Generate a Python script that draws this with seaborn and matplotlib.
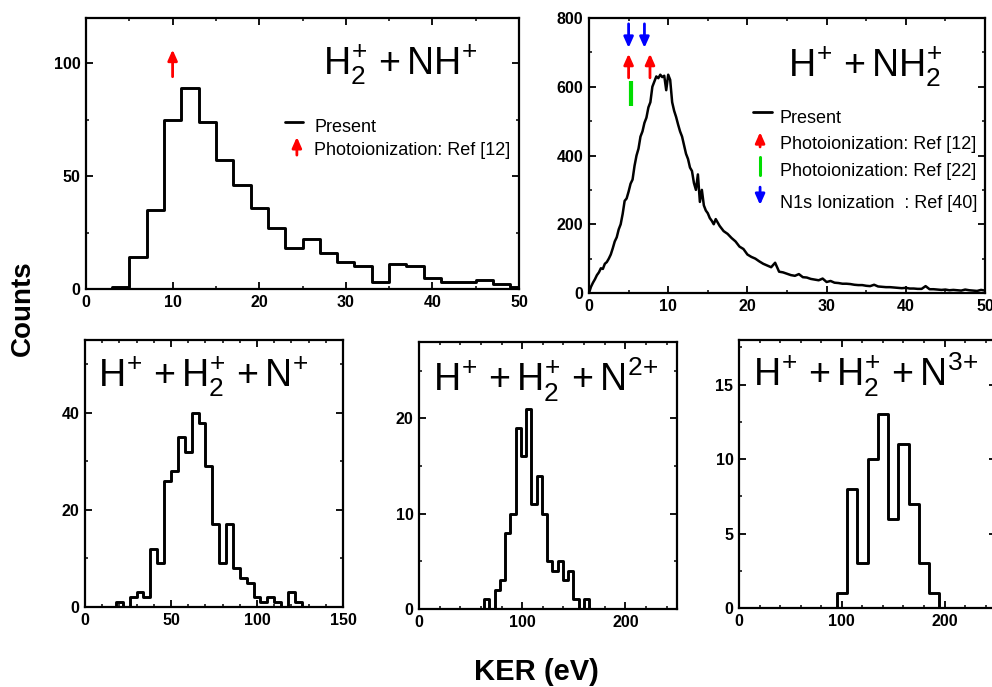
import numpy as np
import pandas as pd
import matplotlib
matplotlib.use("Agg")
import matplotlib.pyplot as plt
import seaborn as sns
from matplotlib.ticker import MultipleLocator

# ---------------- data ----------------
# H2+ + NH+  (2 eV bins)
h2nh_edges = np.arange(-1, 54, 2)
h2nh_counts = [0, 0, 1, 14, 35, 75, 89, 74, 57, 46, 36, 27, 18, 22, 16, 12,
               10, 3, 11, 10, 5, 3, 3, 4, 2, 1, 0]
h2nh_arrow_x = [10]
h2nh_arrow_y = (94, 106)

# H+ + NH2+  (fine spectrum)
hnh2_x_fine = np.arange(0, 16.01, 0.25)
hnh2_y_fine = [0, 18, 30, 40, 52, 60, 72, 70, 85, 90,
               100, 112, 130, 150, 162, 185, 200, 230, 268, 275,
               295, 318, 330, 370, 400, 420, 455, 470, 495, 510,
               540, 555, 600, 615, 630, 625, 635, 628, 632, 590,
               635, 620, 555, 530, 512, 490, 470, 455, 430, 405,
               390, 365, 355, 320, 300, 345, 265, 300, 255, 240,
               232, 218, 210, 200, 215]
hnh2_x_coarse = np.arange(16.5, 50.01, 0.5)
hnh2_y_coarse = [195, 180, 172, 160, 150, 135, 128, 112, 105, 100,
                 92, 85, 80, 75, 88, 62, 60, 56, 52, 50,
                 55, 46, 45, 41, 39, 37, 42, 32, 35, 30,
                 29, 27, 27, 26, 24, 23, 23, 21, 20, 24,
                 19, 18, 17, 17, 16, 15, 14, 15, 13, 13,
                 12, 12, 20, 11, 11, 10, 9, 10, 8, 9,
                 8, 7, 10, 8, 7, 6, 9, 7]
hnh2_red_x = [5.0, 7.7]
hnh2_red_y = (626, 696)
hnh2_blue_x = [5.0, 7.0]
hnh2_blue_y = (783, 713)
hnh2_green_x = [5.35]
hnh2_green_y = (544, 616)

# H+ + H2+ + N+  (4 eV bins)
n1_edges = np.arange(14, 131, 4)
n1_counts = [0, 1, 0, 2, 3, 2, 12, 9, 26, 28, 35, 32, 40, 38, 29, 17, 9, 17,
             8, 6, 5, 2, 1, 2, 1, 0, 3, 1, 0]

# H+ + H2+ + N2+  (~5 eV bins)
n2_edges = np.linspace(57.9, 170.1, 23)
n2_counts = [0, 1, 0, 2, 3, 8, 10, 19, 16, 21, 11, 14, 10, 5, 4, 5, 3, 4,
             1, 0, 1, 0]

# H+ + H2+ + N3+  (10 eV bins)
n3_edges = np.arange(85, 206, 10)
n3_counts = [0, 1, 8, 3, 10, 13, 6, 11, 7, 3, 1, 0]

titles = [r"$H_2^{\!+} + NH^{\!+}$", r"$H^{\!+} + NH_2^{\!+}$",
          r"$H^{\!+} + H_2^{\!+} + N^{\!+}$",
          r"$H^{\!+} + H_2^{\!+} + N^{2\!+}$",
          r"$H^{\!+} + H_2^{\!+} + N^{3\!+}$"]
legend_present = "Present"
legend_ref12 = "Photoionization: Ref [12]"
legend_ref22 = "Photoionization: Ref [22]"
legend_ref40 = "N1s Ionization  : Ref [40]"

# ---------------- style ----------------
sns.set_theme(style="ticks")
plt.rcParams["font.family"] = ["Liberation Sans", "DejaVu Sans"]
plt.rcParams["mathtext.fontset"] = "custom"
plt.rcParams["mathtext.rm"] = "Liberation Sans"
plt.rcParams["mathtext.it"] = "Liberation Sans:italic"
plt.rcParams["mathtext.bf"] = "Liberation Sans:bold"
plt.rcParams["mathtext.default"] = "regular"
plt.rcParams["axes.linewidth"] = 1.6
plt.rcParams["axes.edgecolor"] = "black"
plt.rcParams["text.color"] = "black"
plt.rcParams["axes.labelcolor"] = "black"

fig = plt.figure(figsize=(9.92, 6.87), dpi=100)
W, H = 992.0, 687.0


def add_ax(l, r, t, b):
    return fig.add_axes([l / W, 1 - b / H, (r - l) / W, (b - t) / H])


ax_tl = add_ax(86, 519, 18, 289)
ax_tr = add_ax(589, 985, 18, 293)
ax_b1 = add_ax(85, 343, 340, 607)
ax_b2 = add_ax(419, 677, 342, 609)
ax_b3 = add_ax(739, 996, 340, 608)


def style_axis(ax, xlim, ylim, xmaj, xmin, ymaj, ymin):
    ax.set_xlim(*xlim)
    ax.set_ylim(*ylim)
    ax.xaxis.set_major_locator(MultipleLocator(xmaj))
    ax.xaxis.set_minor_locator(MultipleLocator(xmin))
    ax.yaxis.set_major_locator(MultipleLocator(ymaj))
    ax.yaxis.set_minor_locator(MultipleLocator(ymin))
    ax.tick_params(which="both", direction="in", top=True, right=True,
                   colors="black", labelsize=11.5, pad=4)
    ax.tick_params(which="major", length=5, width=1.3)
    ax.tick_params(which="minor", length=2.5, width=1.1)
    ax.set_xlabel("")
    ax.set_ylabel("")
    for lab in ax.get_xticklabels() + ax.get_yticklabels():
        lab.set_fontweight("bold")
    for sp in ax.spines.values():
        sp.set_visible(True)
        sp.set_linewidth(1.6)


def hist(ax, edges, counts):
    edges = np.asarray(edges, dtype=float)
    centers = (edges[:-1] + edges[1:]) / 2
    df = pd.DataFrame({"ker": centers, "count": np.asarray(counts, float)})
    sns.histplot(data=df, x="ker", weights="count", bins=list(edges),
                 element="step", fill=False, color="black", linewidth=2.1,
                 ax=ax)


def arrow(ax, x, y0, y1, color, coords="data"):
    ax.annotate("", xy=(x, y1), xytext=(x, y0), xycoords=coords,
                textcoords=coords,
                arrowprops=dict(arrowstyle="-|>,head_length=0.45,head_width=0.2",
                                color=color, lw=2.0, mutation_scale=14,
                                shrinkA=0, shrinkB=0))


TS = 27

# --- top left ---
hist(ax_tl, h2nh_edges, h2nh_counts)
for xv in h2nh_arrow_x:
    arrow(ax_tl, xv, h2nh_arrow_y[0], h2nh_arrow_y[1], "red")
style_axis(ax_tl, (0, 50), (0, 120), 10, 5, 50, 25)
ax_tl.text(0.547, 0.79, titles[0], transform=ax_tl.transAxes, fontsize=TS,
           ha="left", va="baseline")
ax_tl.plot([0.46, 0.501], [0.616, 0.616], color="black", lw=2,
           transform=ax_tl.transAxes)
ax_tl.text(0.527, 0.579, legend_present, transform=ax_tl.transAxes,
           fontsize=13, va="baseline")
arrow(ax_tl, 0.487, 0.494, 0.561, "red", coords="axes fraction")
ax_tl.text(0.527, 0.494, legend_ref12, transform=ax_tl.transAxes,
           fontsize=13, va="baseline")

# --- top right ---
x_all = np.concatenate([hnh2_x_fine, hnh2_x_coarse])
y_all = np.concatenate([hnh2_y_fine, hnh2_y_coarse])
sns.lineplot(x=x_all, y=y_all, color="black", linewidth=1.8, ax=ax_tr)
for xv in hnh2_red_x:
    arrow(ax_tr, xv, hnh2_red_y[0], hnh2_red_y[1], "red")
for xv in hnh2_blue_x:
    arrow(ax_tr, xv, hnh2_blue_y[0], hnh2_blue_y[1], "blue")
ax_tr.vlines(hnh2_green_x, hnh2_green_y[0], hnh2_green_y[1], color="#00dd00",
             lw=3)
style_axis(ax_tr, (0, 50), (0, 800), 10, 5, 200, 100)
ax_tr.text(0.503, 0.789, titles[1], transform=ax_tr.transAxes, fontsize=TS,
           ha="left", va="baseline")
ax_tr.plot([0.414, 0.462], [0.658, 0.658], color="black", lw=2,
           transform=ax_tr.transAxes)
ax_tr.text(0.482, 0.618, legend_present, transform=ax_tr.transAxes,
           fontsize=13, va="baseline")
arrow(ax_tr, 0.432, 0.531, 0.585, "red", coords="axes fraction")
ax_tr.text(0.482, 0.524, legend_ref12, transform=ax_tr.transAxes,
           fontsize=13, va="baseline")
ax_tr.plot([0.432, 0.432], [0.429, 0.495], color="#00dd00", lw=2.2,
           transform=ax_tr.transAxes)
ax_tr.text(0.482, 0.425, legend_ref22, transform=ax_tr.transAxes,
           fontsize=13, va="baseline")
arrow(ax_tr, 0.432, 0.385, 0.32, "blue", coords="axes fraction")
ax_tr.text(0.482, 0.309, legend_ref40, transform=ax_tr.transAxes,
           fontsize=13, va="baseline")

# --- bottom ---
hist(ax_b1, n1_edges, n1_counts)
style_axis(ax_b1, (0, 150), (0, 55), 50, 10, 20, 10)
ax_b1.text(0.05, 0.824, titles[2], transform=ax_b1.transAxes, fontsize=TS,
           ha="left", va="baseline")

hist(ax_b2, n2_edges, n2_counts)
style_axis(ax_b2, (0, 250), (0, 28), 100, 20, 10, 5)
ax_b2.text(0.054, 0.816, titles[3], transform=ax_b2.transAxes, fontsize=TS,
           ha="left", va="baseline")

hist(ax_b3, n3_edges, n3_counts)
style_axis(ax_b3, (0, 250), (0, 18), 100, 20, 5, 2.5)
ax_b3.text(0.054, 0.825, titles[4], transform=ax_b3.transAxes, fontsize=TS,
           ha="left", va="baseline")

fig.text(23 / W, 1 - 308 / H, "Counts", rotation=90, fontsize=20,
         fontweight="bold", ha="center", va="center")
fig.text(536 / W, 1 - 672 / H, "KER (eV)", fontsize=21, fontweight="bold",
         ha="center", va="center")

fig.savefig("out.png", dpi=100)
